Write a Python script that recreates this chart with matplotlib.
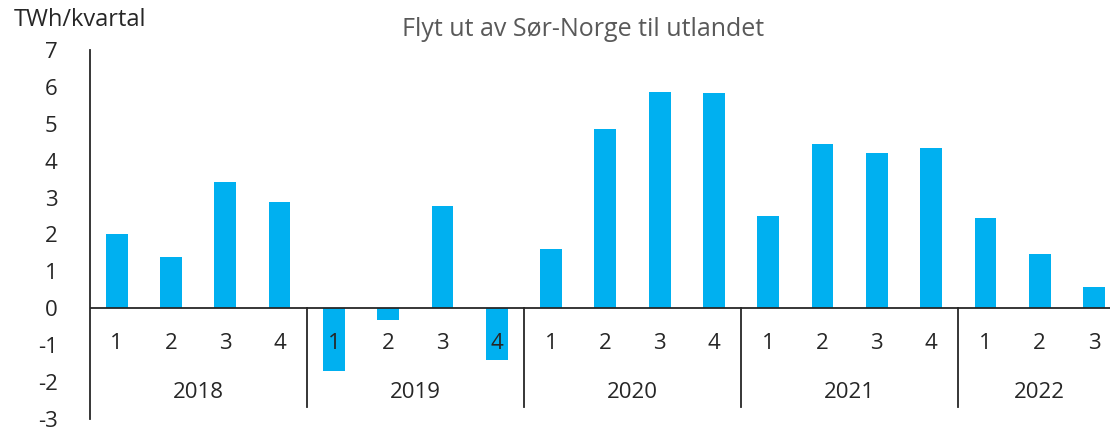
#!/usr/bin/env python3

import matplotlib
matplotlib.use("Agg")
import matplotlib.pyplot as plt
import numpy as np

# Netto flyt ut av Sør-Norge, TWh per kvartal
years = ["2018", "2019", "2020", "2021", "2022"]
quarters = ["1", "2", "3", "4"]
values_2018 = [2.00, 1.38, 3.41, 2.89]
values_2019 = [-1.70, -0.32, 2.76, -1.41]
values_2020 = [1.62, 4.86, 5.86, 5.84]
values_2021 = [2.51, 4.46, 4.22, 4.35]
values_2022 = [2.46, 1.46, 0.57]
yticks = [-3, -2, -1, 0, 1, 2, 3, 4, 5, 6, 7]

BAR_COLOR = "#00B0F0"
TEXT_COLOR = "#262626"
plt.rcParams["font.family"] = ["Open Sans", "DejaVu Sans"]


def plot_flow(dpi=100):
    series = [values_2018, values_2019, values_2020, values_2021, values_2022]
    values = [v for s in series for v in s]
    n = len(values)
    x = np.arange(n)

    fig = plt.figure(figsize=(1110 / dpi, 429 / dpi), dpi=dpi)
    W, H = 1110, 429
    # slot width ~54.3 px, axis runs past the right edge of the image
    ax = fig.add_axes([89.5 / W, 10 / H, n * 54.3 / W, 369 / H])

    ax.bar(x, values, width=0.4, color=BAR_COLOR, zorder=2)

    ax.set_xlim(-0.5, n - 0.5)
    ax.set_ylim(-3, 7)
    ax.set_yticks(yticks)
    ax.set_yticklabels([str(t) for t in yticks], fontsize=16, color=TEXT_COLOR)
    ax.tick_params(axis="y", length=0, pad=23)
    ax.set_xticks([])

    for side in ["top", "right", "bottom"]:
        ax.spines[side].set_visible(False)
    ax.spines["left"].set_color(TEXT_COLOR)
    ax.spines["left"].set_linewidth(1.3)
    ax.axhline(0, color=TEXT_COLOR, linewidth=1.3, zorder=3)

    # quarter labels and year groups under the zero line
    pos = 0
    for i, (year, s) in enumerate(zip(years, series)):
        for j in range(len(s)):
            ax.text(pos + j, -0.95, quarters[j], ha="center", va="center",
                    fontsize=16, color=TEXT_COLOR, zorder=4)
        ax.text(pos + (len(s) - 1) / 2, -2.28, year, ha="center", va="center",
                fontsize=16, color=TEXT_COLOR)
        if i > 0:
            ax.plot([pos - 0.5, pos - 0.5], [0, -2.68], color=TEXT_COLOR,
                    linewidth=1.3, clip_on=False)
        pos += len(s)

    fig.text(583 / W, 1 - 29 / H, "Flyt ut av Sør-Norge til utlandet",
             ha="center", va="center", fontsize=18, color="#595959")
    fig.text(14 / W, 1 - 20 / H, "TWh/kvartal", ha="left", va="center",
             fontsize=17, color=TEXT_COLOR)
    return fig


if __name__ == "__main__":
    fig = plot_flow()
    fig.savefig("out.png", dpi=100)
